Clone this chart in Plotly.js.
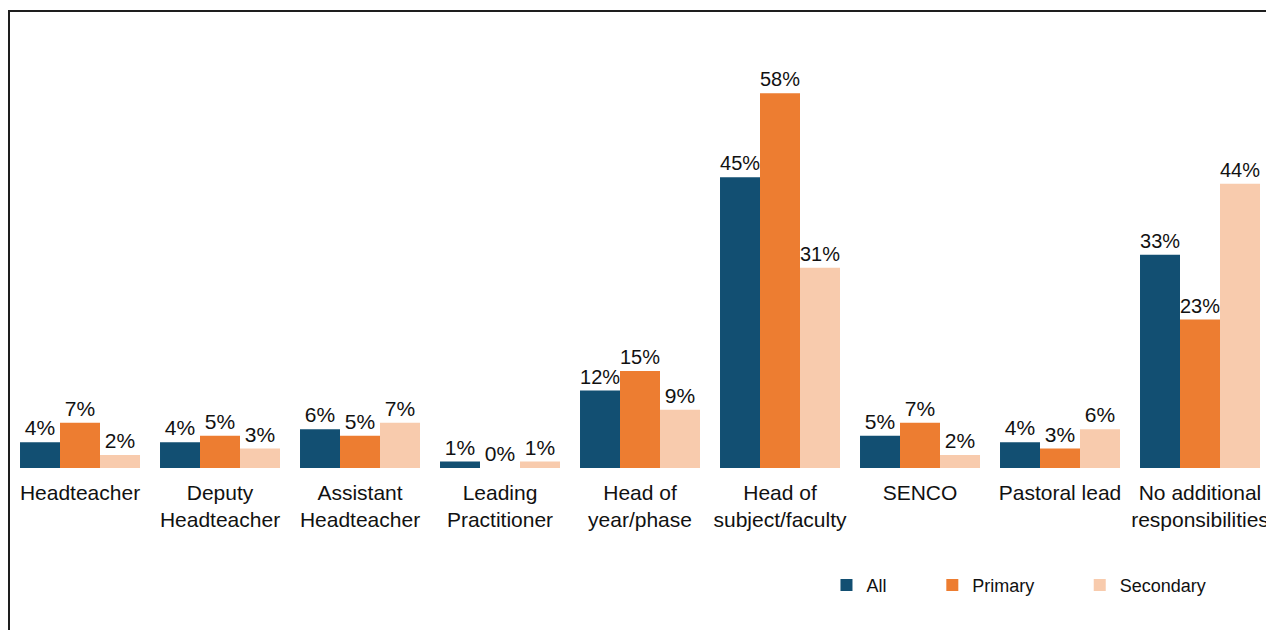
<!DOCTYPE html>
<html>
<head>
<meta charset="utf-8">
<script src="https://cdn.plot.ly/plotly-3.0.1.min.js"></script>
<style>
  html, body { margin: 0; padding: 0; overflow: hidden; background: #fff; }
  #frame { position: absolute; left: 8px; top: 10px; width: 1400px; height: 700px;
           border-left: 2px solid #1e1e1e; border-top: 2px solid #1e1e1e; pointer-events: none; }
  #chart { position: absolute; left: 0; top: 0; }
</style>
</head>
<body>
<div id="chart"></div>
<div id="frame"></div>
<script>
const categories = [
  "Headteacher", "Deputy<br>Headteacher", "Assistant<br>Headteacher",
  "Leading<br>Practitioner", "Head of<br>year/phase", "Head of<br>subject/faculty",
  "SENCO", "Pastoral lead", "No additional<br>responsibilities"
];
const allValues       = [4, 4, 6, 1, 12, 45, 5, 4, 33];
const primaryValues   = [7, 5, 5, 0, 15, 58, 7, 3, 23];
const secondaryValues = [2, 3, 7, 1, 9, 31, 2, 6, 44];

const seriesNames  = ["All", "Primary", "Secondary"];
const seriesColors = ["#124F72", "#ED7D31", "#F8CBAD"];
const seriesData   = [allValues, primaryValues, secondaryValues];

const traces = seriesData.map((vals, i) => ({
  type: "bar",
  name: seriesNames[i],
  x: categories,
  y: vals,
  text: vals.map(v => v + "%"),
  textposition: "outside",
  textfont: { family: "Liberation Sans, Arial, sans-serif", size: 21, color: "#111" },
  cliponaxis: false,
  marker: { color: seriesColors[i], line: { width: 0 } },
  hoverinfo: "none",
  legend: i === 0 ? "legend" : "legend" + (i + 1)
}));

const legendBase = {
  orientation: "h",
  yanchor: "middle",
  xanchor: "left",
  y: -0.279,
  bgcolor: "rgba(0,0,0,0)",
  font: { family: "Liberation Sans, Arial, sans-serif", size: 18, color: "#111" },
  itemwidth: 30
};

const layout = {
  width: 1290,
  height: 630,
  margin: { l: 10, r: 20, t: 48, b: 162 },
  paper_bgcolor: "#fff",
  plot_bgcolor: "#fff",
  barmode: "group",
  bargap: 0.143,
  bargroupgap: 0,
  showlegend: true,
  xaxis: {
    type: "category",
    range: [-0.5, 8.5],
    showgrid: false,
    zeroline: false,
    showline: false,
    ticks: "",
    ticklabelstandoff: 10,
    tickfont: { family: "Liberation Sans, Arial, sans-serif", size: 21, color: "#111" },
    fixedrange: true
  },
  yaxis: {
    range: [0, 65],
    visible: false,
    showgrid: false,
    zeroline: false,
    fixedrange: true
  },
  legend:  Object.assign({}, legendBase, { x: 0.648 }),
  legend2: Object.assign({}, legendBase, { x: 0.732 }),
  legend3: Object.assign({}, legendBase, { x: 0.849 }),
  font: { family: "Liberation Sans, Arial, sans-serif" }
};

Plotly.newPlot("chart", traces, layout, { displayModeBar: false, staticPlot: true });
</script>
</body>
</html>
